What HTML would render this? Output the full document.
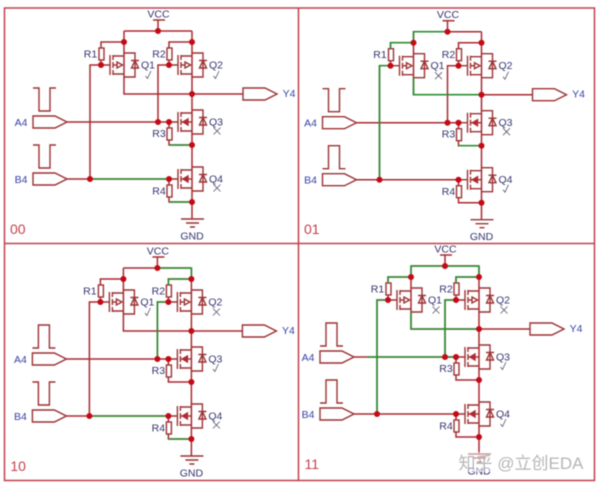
<!DOCTYPE html>
<html><head><meta charset="utf-8"><style>
html,body{margin:0;padding:0;background:#fff;width:600px;height:487px;overflow:hidden}
svg{display:block;filter:blur(.45px)}
text{font-family:"Liberation Sans","Noto Sans CJK SC",sans-serif;font-size:10.500px;fill:#33336e;text-anchor:middle}
.b{fill:#3440a8}.n{font-size:14px;fill:#c2404c;text-anchor:start}
.w{fill:none;stroke:#a92a30;stroke-width:1.500}
.g{fill:none;stroke:#2a9234;stroke-width:1.600}
.m{fill:none;stroke:#9c3234;stroke-width:1.400}
.k{fill:none;stroke:#55556a;stroke-width:.8}
</style></head><body>
<svg width="600" height="487" viewBox="0 0 600 487" xmlns="http://www.w3.org/2000/svg">
<defs>
<g id="pf" class="m">
<path d="M-14-10V10M-11-10V-5M-11-3V3M-11 5V10M-11-9H0M-11 9H0M-22 0H-14"/>
<path d="M-11 0H-7"/><path d="M-7-3L-1.500 0L-7 3Z"/><path d="M0-12H11V12H0M7-4.500H15"/><path d="M11-4.500L7.500 3H14.500Z"/>
</g>
<g id="nf" class="m">
<path d="M-14-10V10M-11-10V-5M-11-3V3M-11 5V10M-11-9H0M-11 9H0M-22 0H-14"/>
<path d="M-11 0H0"/><path d="M-9 0L-4-3V3Z" fill="#b02a30" stroke="#b02a30"/><path d="M0-12H11V12H0M7-4.500H15"/><path d="M11-4.500L7.500 3H14.500Z"/>
</g>
<g id="wires">
<path class="w" d="M153 20H165M158 20V31M124 31H192M124 31V94H192M192 31V202M192 202V219"/>
<path class="w" d="M124 42H101V48M101 60V65H90V179M67 179H169M192 42H169V48M169 60V65H158V122M67 122H169M169 122V128M169 140V145H192M169 179V185M169 197V202H192M192 94H243"/>
<rect class="m" x="99" y="48" width="5" height="12"/><rect class="m" x="167" y="48" width="5" height="12"/><rect class="m" x="167" y="128" width="5" height="12"/><rect class="m" x="167" y="185" width="5" height="12"/>
<use href="#pf" x="124" y="65"/><use href="#pf" x="192" y="65"/><use href="#nf" x="192" y="122"/><use href="#nf" x="192" y="179"/>
<path class="m" d="M243 88H265L277 94L265 100H243ZM33 116H55L67 122L55 128H33ZM33 173H55L67 179L55 185H33Z"/>
<path class="m" d="M181 219H204M186 223H199M190 227H195"/>
</g>
<g id="dots" fill="#c30a16">
<circle cx="158" cy="31" r="3"/><circle cx="124" cy="42" r="3"/><circle cx="192" cy="42" r="3"/><circle cx="101" cy="65" r="3"/><circle cx="169" cy="65" r="3"/><circle cx="192" cy="94" r="3"/><circle cx="158" cy="122" r="3"/><circle cx="169" cy="122" r="3"/><circle cx="192" cy="145" r="3"/><circle cx="90" cy="179" r="3"/><circle cx="169" cy="179" r="3"/><circle cx="192" cy="202" r="3"/>
</g>
<path id="lo" class="m" d="M0 0H6V23H17V0H23"/>
<path id="hi" class="m" d="M0 23H6V0H17V23H23"/>
<path id="x" class="k" d="M-3.500-3.500L3.500 3.500M3.500-3.500L-3.500 3.500"/>
<path id="v" class="k" d="M-3.500 1L-1.500 3.500L2-4"/>
</defs>
<path fill="none" stroke="#c0404e" stroke-width="1.500" d="M4.500 8H594.500V480.500H4.500ZM4.500 243.500H594.500M298.500 8V480.500"/>

<!-- panel 00 -->
<g>
<use href="#wires"/>
<path class="g" d="M169 145H192M169 202H192M90 179H169"/>
<use href="#dots"/>
<use href="#lo" x="33" y="88"/><use href="#lo" x="33" y="145"/>
<use href="#v" x="149" y="75"/><use href="#v" x="217" y="75"/><use href="#x" x="217" y="131"/><use href="#x" x="217" y="188"/>
<text x="158.500" y="17.500">VCC</text><text x="192" y="239.500">GND</text>
<text x="90.500" y="57.500">R1</text><text x="159" y="57.500">R2</text><text x="159" y="137">R3</text><text x="159" y="194.500">R4</text>
<text x="148" y="68.500">Q1</text><text x="216" y="68.500">Q2</text><text x="216" y="125.500">Q3</text><text x="216" y="182.500">Q4</text>
<text class="b" x="21" y="126">A4</text><text class="b" x="21" y="183">B4</text><text class="b" x="289" y="97">Y4</text>
<text class="n" x="10" y="234">00</text>
</g>

<!-- panel 01 -->
<g transform="translate(289.500 .7)">
<use href="#wires"/>
<path class="g" d="M158 31H124V42H101V48M124 77V94H192M90 179V65H101M169 145H192"/>
<use href="#dots"/>
<use href="#lo" x="33" y="88"/><use href="#hi" x="33" y="145"/>
<use href="#x" x="149" y="75"/><use href="#v" x="217" y="75"/><use href="#x" x="217" y="131"/><use href="#v" x="217" y="188"/>
<text x="158.500" y="17.500">VCC</text><text x="192" y="239.500">GND</text>
<text x="90.500" y="57.500">R1</text><text x="159" y="57.500">R2</text><text x="159" y="137">R3</text><text x="159" y="194.500">R4</text>
<text x="148" y="68.500">Q1</text><text x="216" y="68.500">Q2</text><text x="216" y="125.500">Q3</text><text x="216" y="182.500">Q4</text>
<text class="b" x="21" y="126">A4</text><text class="b" x="21" y="183">B4</text><text class="b" x="289" y="97">Y4</text>
<text class="n" x="14.500" y="233.500">01</text>
</g>

<!-- panel 10 -->
<g transform="translate(-.6 237)">
<use href="#wires"/>
<path class="g" d="M158 31H192V42H169V48M158 122V65H169M90 179H169M169 202H192"/>
<use href="#dots"/>
<use href="#hi" x="33" y="88"/><use href="#lo" x="33" y="145"/>
<use href="#v" x="149" y="75"/><use href="#x" x="217" y="75"/><use href="#v" x="217" y="131"/><use href="#x" x="217" y="188"/>
<text x="158.500" y="17.500">VCC</text><text x="192" y="239.500">GND</text>
<text x="90.500" y="57.500">R1</text><text x="159" y="57.500">R2</text><text x="159" y="137">R3</text><text x="159" y="194.500">R4</text>
<text x="148" y="68.500">Q1</text><text x="216" y="68.500">Q2</text><text x="216" y="125.500">Q3</text><text x="216" y="182.500">Q4</text>
<text class="b" x="21" y="126">A4</text><text class="b" x="21" y="183">B4</text><text class="b" x="289" y="97">Y4</text>
<text class="n" x="11" y="234">10</text>
</g>

<!-- panel 11 -->
<g transform="translate(287 235)">
<use href="#wires"/>
<path class="g" d="M124 42V31H192V42H169V48M124 42H101V48M90 179V65H101M158 122V65H169M80 122H169M124 77V94H192"/>
<use href="#dots"/>
<use href="#hi" x="33" y="88"/><use href="#hi" x="33" y="145"/>
<use href="#x" x="149" y="75"/><use href="#x" x="217" y="75"/><use href="#v" x="217" y="131"/><use href="#v" x="217" y="188"/>
<text x="158.500" y="17.500">VCC</text><text x="192" y="239.500">GND</text>
<text x="90.500" y="57.500">R1</text><text x="159" y="57.500">R2</text><text x="159" y="137">R3</text><text x="159" y="194.500">R4</text>
<text x="148" y="68.500">Q1</text><text x="216" y="68.500">Q2</text><text x="216" y="125.500">Q3</text><text x="216" y="182.500">Q4</text>
<text class="b" x="21" y="126">A4</text><text class="b" x="21" y="183">B4</text><text class="b" x="289" y="97">Y4</text>
<text class="n" x="17.500" y="234">11</text>
</g>

<rect x="456" y="452" width="130" height="20" fill="#fff" fill-opacity=".5"/>
<text x="521" y="469" style="font-size:17px;fill:#a8a8ac;fill-opacity:.85">知乎 @立创EDA</text>
</svg>
</body></html>
